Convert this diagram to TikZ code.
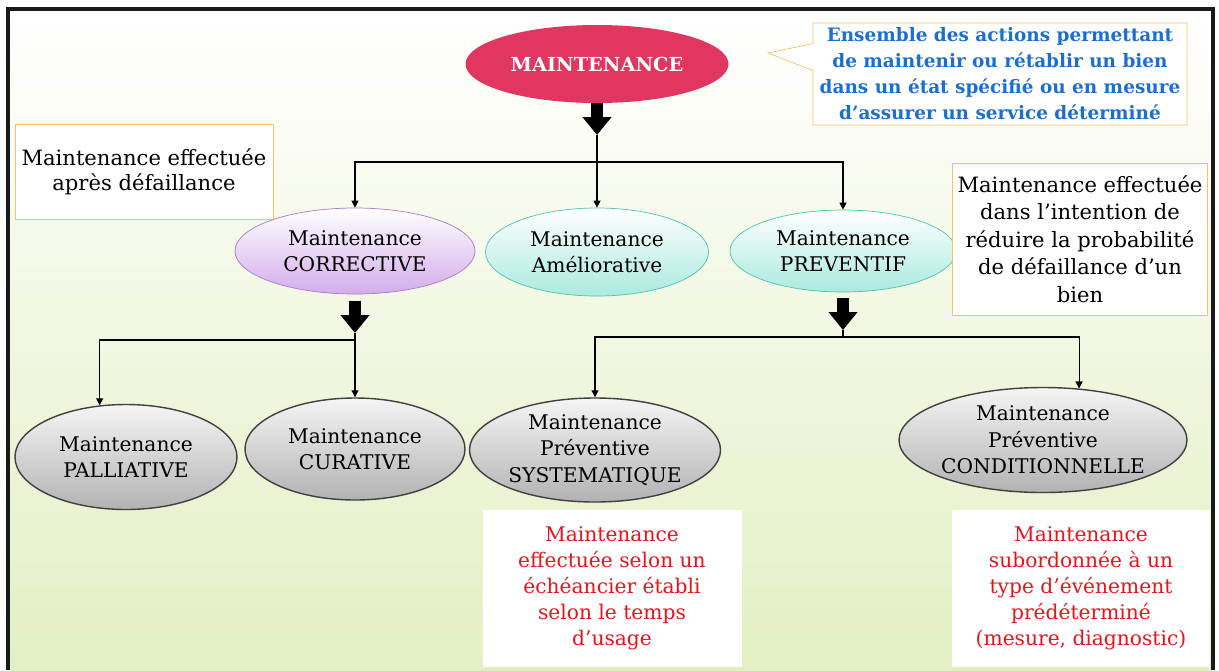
\documentclass[tikz,border=0pt]{standalone}
\usepackage{fontspec}
\setmainfont{DejaVu Serif}
\usepackage{xcolor}
\usetikzlibrary{arrows.meta,positioning,shapes.geometric,shapes.callouts}
\definecolor{maintred}{HTML}{E0365F}
\definecolor{noteblue}{HTML}{1A6FD0}
\definecolor{notered}{HTML}{E8141C}
\definecolor{goldline}{HTML}{EFC56A}
\definecolor{bggreen}{HTML}{E3EFC3}
\definecolor{bgmid}{HTML}{F5F8E6}
\definecolor{lilac}{HTML}{D3ACEB}
\definecolor{lilacline}{HTML}{A97BCB}
\definecolor{aqua}{HTML}{A9EADF}
\definecolor{aqualine}{HTML}{4EC3AE}
\tikzset{
  ell/.style={ellipse,align=center,inner sep=0pt,font=\fontsize{11.5}{14.6}\selectfont},
  ellmain/.style={ell,fill=maintred,text=white,font=\fontsize{11}{14}\selectfont\bfseries},
  ellcorr/.style={ell,draw=lilacline,top color=white,bottom color=lilac},
  ellamel/.style={ell,draw=aqualine,top color=white,bottom color=aqua},
  ellgray/.style={ell,draw=black!75,thick,top color=gray!8,bottom color=gray!60,
    font=\fontsize{11.5}{15}\selectfont},
  notebox/.style={rectangle,draw=goldline,fill=white,align=center,inner sep=2pt,
    font=\fontsize{12}{14.4}\selectfont},
  redbox/.style={rectangle,fill=white,align=center,text=notered,
    font=\fontsize{11.5}{14.8}\selectfont},
  fat/.style={line width=2.4mm,-{Triangle[length=3.6mm,width=5.6mm]}},
  thin/.style={line width=0.6pt,-{Triangle[length=1.4mm,width=1.4mm]}}
}
\begin{document}
\begin{tikzpicture}[x=0.2mm,y=-0.2mm]
\useasboundingbox (0,0) rectangle (1219,670);
%%Background and frame
\shade[top color=white,middle color=bgmid,bottom color=bggreen] (8,9) rectangle (1213,670);
\draw[line width=0.8mm,black!90] (8,670) -- (8,9) -- (1213,9) -- (1213,670);
%%First place the nodes
\node[ellmain,minimum width=52.6mm,minimum height=15.6mm] (maint) at (597,64) {MAINTENANCE};
\coordinate (tip) at (768,53);
\node[rectangle callout,callout absolute pointer=(tip),callout pointer width=5.4mm,
  draw=goldline,fill=white,align=center,text=noteblue,inner sep=0pt,
  minimum width=74.8mm,minimum height=20.4mm,font=\fontsize{10.5}{14.8}\selectfont\bfseries]
  (defn) at (1000,74) {Ensemble des actions permettant\\de maintenir ou rétablir un bien\\dans un état spécifié ou en mesure\\d’assurer un service déterminé};
\node[notebox,minimum width=51.6mm,minimum height=19mm] (apres) at (144,172) {Maintenance effectuée\\après défaillance};
\node[ellcorr,minimum width=48mm,minimum height=17.2mm] (corr) at (355,251) {Maintenance\\CORRECTIVE};
\node[ellamel,minimum width=44.6mm,minimum height=17.6mm] (amel) at (597,252) {Maintenance\\Améliorative};
\node[ellamel,minimum width=45.2mm,minimum height=16.4mm] (prev) at (843,251) {Maintenance\\PREVENTIF};
\node[notebox,minimum width=51mm,minimum height=30.4mm,font=\fontsize{12}{15.6}\selectfont] (intent) at (1080,239) {Maintenance effectuée\\dans l’intention de\\réduire la probabilité\\de défaillance d’un\\bien};
\node[ellgray,minimum width=44.4mm,minimum height=21mm] (pall) at (126,457) {Maintenance\\PALLIATIVE};
\node[ellgray,minimum width=44mm,minimum height=20.4mm] (cura) at (355,449) {Maintenance\\CURATIVE};
\node[ellgray,minimum width=50.2mm,minimum height=20.8mm] (syst) at (595,450) {Maintenance\\Préventive\\SYSTEMATIQUE};
\node[ellgray,minimum width=57mm,minimum height=21mm] (cond) at (1043,440) {Maintenance\\Préventive\\CONDITIONNELLE};
\node[redbox,minimum width=51.8mm,minimum height=31.4mm] (systnote) at (612,588) {Maintenance\\effectuée selon un\\échéancier établi\\selon le temps\\d’usage};
\node[redbox,minimum width=51.6mm,minimum height=31.4mm] (condnote) at (1081,588) {Maintenance\\subordonnée à un\\type d’événement\\prédéterminé\\(mesure, diagnostic)};
%%Junction points
\coordinate (f0) at (597,135);
\coordinate (j0) at (597,162);
\coordinate (f1) at (355,333);
\coordinate (j1) at (355,340);
\coordinate (f2) at (843,330);
\coordinate (j2) at (843,337);
%%Draw the fat arrows
\draw[fat] (maint.south) -- (f0);
\draw[fat,shorten <=4pt] (corr.south) -- (f1);
\draw[fat,shorten <=3pt] (prev.south) -- (f2);
%%Draw the thin arrows
\draw[line width=0.6pt] (f0) -- (j0) (f1) -- (j1) (f2) -- (j2);
\draw[thin] (j0) -| (corr);
\draw[thin] (j0) -- (amel);
\draw[thin] (j0) -| (prev);
\draw[thin] (j1) -| (pall.117);
\draw[thin] (j1) -- (cura);
\draw[thin] (j2) -| (syst);
\draw[thin] (j2) -| (cond.55);
\end{tikzpicture}
\end{document}
